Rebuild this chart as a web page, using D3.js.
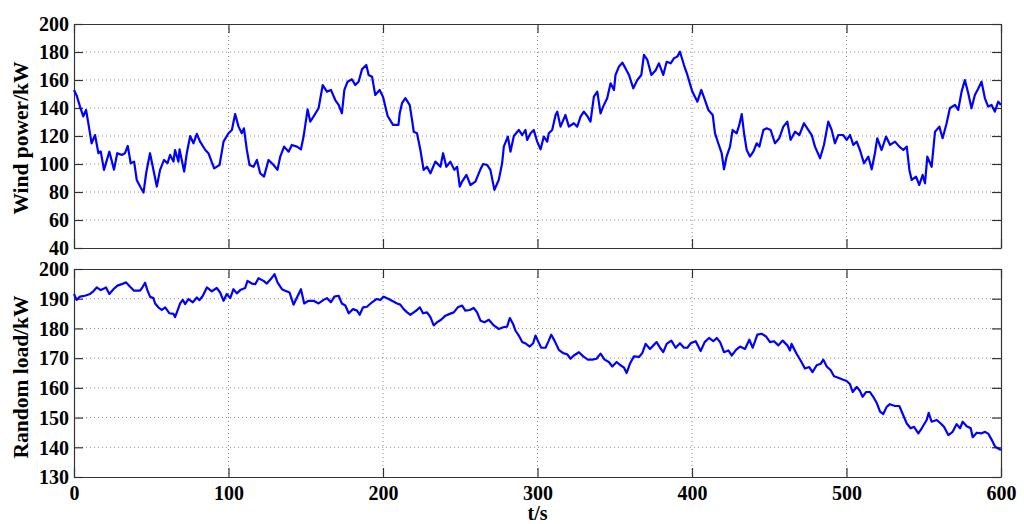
<!DOCTYPE html>
<html><head><meta charset="utf-8">
<script src="https://cdn.jsdelivr.net/npm/d3@7"></script>
<style>body{margin:0;background:#fff}</style>
</head><body><svg id="c" width="1024" height="524"></svg>
<script>
const windTime = [0,1.7,3.9,6,7.8,9.3,11.4,13.6,15.8,17.3,19.4,22.9,25.9,28,30.9,33,34.8,36.7,38.9,40.6,42.8,45,46.7,49.2,51,53.6,55.7,58.3,60.5,62.2,64.4,65.4,67.6,68.3,71.3,73,75.2,77.3,79.5,81.6,85,87,90.7,94.2,96.8,100,102.2,104.3,106.5,108.6,110,111.9,113.6,116.2,118.4,120.5,123,125.9,129.2,131.7,133.5,136,138.9,141,144.3,146.9,148.6,151.2,152.9,155,158.3,161,163.7,166.3,169.1,171.3,173.4,175,177.1,179.9,182,184.2,186.4,189.2,190.7,192.9,195,197.8,200,203,206.5,210,210.8,212.3,214.5,217.3,218.8,219.9,222,224.2,226.3,228.5,230.7,233.9,237.2,238.9,241,243.6,246.2,248,249.7,251.2,254,256.6,259.8,263,264.8,267.4,269.5,272.1,274.9,277.1,278.2,280.8,282.5,284.7,287.9,290.1,292.2,293.3,295.5,297.6,299.8,302,304.1,306.3,307.3,309.5,311.7,312.8,314.9,318.1,320.3,323.5,325.7,327.9,330,332.2,334.3,336.5,338.7,340.8,342.5,345.1,347.3,349.5,350.5,352.7,354.9,357,359.2,362,364.6,367.2,368.9,371.1,373.7,376.5,378.6,381.4,383.6,386.2,388.3,390.5,392.2,394.8,397,400.2,403.5,406,408.4,410.6,413.4,414.9,417,419.2,420.7,422.4,424.6,426.3,428.9,430.6,432.2,433.7,435.4,437.5,439.7,441.9,443.6,446.2,448.3,450.9,453.7,456.5,459.1,461.7,463.8,466.7,469.5,472.5,474.6,477.5,479.6,482.9,485.4,488.2,490.4,492.5,494.7,497.9,500.1,502.3,504.4,506.6,508.7,511.3,514.1,516.3,518.4,519.9,522.7,525.6,528.2,531.4,534.2,536.8,539,540.7,542.2,545,547.1,549.3,550.8,552.3,555.1,557.3,560.1,562.2,564.8,566.9,570.2,572.3,574.5,576.6,578.8,580.9,583.1,585.3,587.4,589.6,591.7,593.9,596,598.2,600];
const windPower = [152.9,149,141,134,138.6,129,114.8,120.7,107.7,109,95.8,108.8,96,107.7,106.5,107.7,112.9,100.5,101.7,88.6,83.9,79.6,93.4,107.7,98,83.9,95.8,102.9,100.5,106.5,101.7,110,101.7,110.5,94.6,107.7,120,114.8,121.5,116,110,107.7,96.9,99.3,116,122,124.3,135.7,126.7,122,125.5,110,99.3,98,102.9,93.4,91,102.9,99.3,95.8,105.3,112.4,108.8,113.6,112.4,110.5,119.6,139,130.3,133.8,139.8,156.4,151.7,152.9,145.7,142.2,136.2,152.9,158.8,160.5,156.4,158.8,167.6,170.7,163.6,162.4,149.3,152.9,148.1,134.3,127.9,128,136,143.4,147,142,131.5,123,122,110,95.8,98,93.4,101.7,98,107.7,98,101.7,95.8,98,83.9,87.4,92.2,85,87.4,96,100,99.3,95.8,81.5,88.6,100.5,112.4,119.6,108.8,120,124.3,120.7,124.3,117.2,122,124.3,116,110.5,119.6,116,122,124.3,135,137.4,126.7,135,126.7,129.1,126.7,133.8,137.4,134.3,130.3,148.1,151.7,136.2,141,147,157.6,152.9,163.6,169.5,172.4,168.3,163.6,154,160,163.6,177.9,174.3,163.6,167,171.9,163.6,173,171.9,175.5,176.7,180.2,170.7,163.6,151.7,144.5,152.9,145.7,138.6,135,121.9,114.8,107.7,96.2,105.3,112.4,124.3,121.9,127.9,135.7,121.9,110,105.3,108.8,114.8,112.4,124.3,125.5,124.3,114.8,118.4,126.7,130.3,117.2,123.1,120.7,129.1,125.5,120.7,112.4,104.1,113.6,130.3,124.3,114.8,120.7,120.7,117.2,120.7,113.6,116,110,100.5,105.3,96.2,107.7,118.4,110,119.6,113.6,116,112.4,110,112.4,95.8,88.6,91,85,92.2,86.2,105.3,98,123.1,126.7,118.4,129.1,139.8,142.2,138.6,151.7,160,150.5,139.8,149.3,154,158.8,146.9,141,142.2,137.4,144.5,142.2];
const loadTime = [0,1.7,3.9,7.1,10.4,12.5,14.7,17.3,19.4,20.7,22.9,25.5,28.1,30.9,33.7,36.3,38.9,42.8,44.5,46,47.5,49.2,51.4,52.5,54.6,56.8,59,61.8,64.4,65.4,67,68.7,70.4,71.9,74.1,76.9,79.5,81.2,83.4,86,89.2,92.4,94.6,96.8,98.9,101.1,103.2,105.4,107.6,110.8,112.3,115.1,117.3,119.4,122.7,124.8,127.4,129.8,131.7,134.6,136.7,139.5,142.1,144.3,146.9,149,151.8,155.1,158.3,161.6,163.7,166.3,168.5,171.3,173.4,175.6,177.8,180.6,183.2,184.9,187.1,189.6,192.9,195.7,198.3,200.4,203.7,205.8,209.1,211.2,213.4,215.6,217.7,219.9,222,223.8,225.9,228.5,230.7,232.8,235,237.6,240.4,243.2,245.8,248.4,251.2,253.3,256.2,258.7,260.9,263.1,265.7,268.5,271.7,275,277.8,280.3,282.1,284.2,285.7,287.9,290.1,292.2,295,297.2,298.7,300.2,302.4,305.2,307.3,308.9,311,313.8,316.6,319.2,321.4,323.5,326.8,329.6,332.6,335.4,338.2,340.8,343.4,346.2,348.4,351.2,353.8,356,357.7,359.8,362.4,365.7,367.8,370,372.8,375,377.1,379.3,381.4,383.6,386.6,389.4,392.2,394.8,397,399.1,402.4,405.6,408.2,411,413.8,416,418.2,420.7,423.5,425.7,428.5,431.1,434.3,437.1,439.3,442.3,445.1,447.9,450.5,453.1,455.9,458.7,461.7,463.4,464.4,467.7,470.3,473.1,475.9,478,480.7,483.3,485,487.2,489.8,491.9,494.7,497.5,500.1,502.3,504,506.6,508.7,510.4,512.6,515.2,517.3,519.5,521.7,523.8,526,528.1,531.4,534.2,536.4,539,541.5,543.7,546.5,548.7,551.9,553.2,555.1,558.4,561,563.1,565.9,568.7,571.3,573.5,575.2,577.8,580.4,581.7,584.3,587.5,589.7,591.9,594,596.2,600];
const loadPower = [191.6,189.6,190.7,191,191.6,192.5,193.8,192.9,193.4,193.8,191.6,193.2,194.4,194.9,195.5,194,192.7,192.7,194,195.4,192.9,190.7,190.2,188.4,187.1,186.2,187.1,185.1,184.9,183.8,186,188.4,189.6,188.2,189.9,188.8,190.4,189.5,191,193.8,192.5,193.6,192.1,189.3,191.6,190.2,193.2,191.8,192.9,193.6,196,195.1,194.9,196.9,196,195.1,196.6,198.3,195.5,193.2,192.7,192.1,188,190.4,193.2,188.4,189.3,189.3,188.4,189.6,190.2,188.8,190.7,191,188.4,187.7,185.1,186.5,186,184.6,187.1,187.3,188.8,189.9,189.6,190.7,189.9,189.3,188.4,188,186.5,185.4,184.6,185.4,186.2,187.1,185.1,185.4,183.8,181,182.1,182.9,184.3,184.9,185.4,187.1,187.7,186,186.2,186.9,185.4,182.6,182.1,182.9,181,179.8,180.4,180.6,183.5,181.5,179.3,177.6,175.4,175,173.9,175,177.6,175.9,173.5,173.5,175.9,177.9,175.9,172.8,171.7,171.3,169.8,170.9,172,170.6,169.5,169.5,169.8,171.5,169.5,168.7,167.2,168.7,167.6,166.8,165,168.1,170.6,170.4,171.7,174.8,173.1,174.3,175.4,173.5,172,174.8,175.9,173.5,175,173.5,173.5,175,175.7,172.4,175.4,176.8,175.7,176.8,175.4,172,172.6,170.9,172.8,173.9,173.1,176.2,173.5,177.9,178.2,177.3,175.4,175.7,174.3,175.9,174.3,172.6,174.8,171.5,169.2,166.5,167,165.3,167.6,168.1,169.5,167.2,165.9,163.9,163.4,162.8,162.3,161.2,158.6,160.3,159,157,158.6,158.6,157,155,152,151.2,153.6,154.5,153.9,153.9,151.2,148,146.4,146.9,144.7,146.4,149.2,151.6,148.6,149.2,148,146.9,144.1,145.2,147.8,146.4,148.6,147.1,146.4,143.4,144.9,144.7,145.2,144.5,142.5,140.2,139.1];
const xTicks = [0,100,200,300,400,500,600];
const windTicks = [40,60,80,100,120,140,160,180,200];
const loadTicks = [130,140,150,160,170,180,190,200];

const svg = d3.select('#c');
const L = 74, R = 1001;
const x = d3.scaleLinear().domain([0,600]).range([L,R]);
const font = "'Liberation Serif','Times New Roman',serif";

function panel(top, bottom, yDom, yTicks, times, vals, label, labelY, showX) {
  const y = d3.scaleLinear().domain(yDom).range([bottom, top]);
  const g = svg.append('g');
  g.selectAll('.gx').data(xTicks.slice(1,-1)).enter().append('line')
    .attr('x1', d=>x(d)).attr('x2', d=>x(d)).attr('y1', top).attr('y2', bottom)
    .attr('stroke','#8a8a8a').attr('stroke-width',1).attr('stroke-dasharray','1,3');
  g.selectAll('.gy').data(yTicks.slice(1,-1)).enter().append('line')
    .attr('x1', L).attr('x2', R).attr('y1', d=>y(d)).attr('y2', d=>y(d))
    .attr('stroke','#8a8a8a').attr('stroke-width',1).attr('stroke-dasharray','1,3');
  const tl = 9;
  const axG = g.append('g').attr('transform',`translate(0,${bottom})`).call(d3.axisBottom(x).tickValues(xTicks).tickSizeInner(-tl).tickSizeOuter(0).tickFormat(showX ? d3.format('d') : ''));
  const axT = g.append('g').attr('transform',`translate(0,${top})`).call(d3.axisTop(x).tickValues(xTicks).tickSizeInner(-tl).tickSizeOuter(0).tickFormat(''));
  const ayG = g.append('g').attr('transform',`translate(${L},0)`).call(d3.axisLeft(y).tickValues(yTicks).tickSizeInner(-tl).tickSizeOuter(0).tickFormat(d3.format('d')));
  const ayR = g.append('g').attr('transform',`translate(${R},0)`).call(d3.axisRight(y).tickValues(yTicks).tickSizeInner(-tl).tickSizeOuter(0).tickFormat(''));
  [axG,axT,ayG,ayR].forEach(a=>{
    a.select('.domain').attr('stroke','#333').attr('stroke-width',1.2);
    a.selectAll('.tick line').attr('stroke','#333').attr('stroke-width',1.2);
    a.selectAll('text').attr('font-family',font).attr('font-weight','bold').attr('font-size',20).attr('fill','#000');
  });
  ayG.selectAll('text').attr('x',-5).attr('dy','0.34em');
  axG.selectAll('text').attr('y',9);
  const data = times.map((t,i)=>[t, vals[i]]);
  g.append('path').datum(data)
    .attr('fill','none').attr('stroke','#0000ff').attr('stroke-width',2.2).attr('stroke-linejoin','round')
    .attr('d', d3.line().x(d=>x(d[0])).y(d=>y(d[1])));
  g.append('text').attr('transform',`translate(28,${labelY}) rotate(-90)`)
    .attr('text-anchor','middle').attr('font-family',font).attr('font-weight','bold').attr('font-size',21.5)
    .text(label);
}

panel(24, 248, [40,200], windTicks, windTime, windPower, 'Wind power/kW', 138, false);
panel(269, 477, [130,200], loadTicks, loadTime, loadPower, 'Random load/kW', 377, true);

svg.append('text').attr('x', (L+R)/2).attr('y', 520).attr('text-anchor','middle')
  .attr('font-family',font).attr('font-weight','bold').attr('font-size',20).text('t/s');
</script></body></html>
